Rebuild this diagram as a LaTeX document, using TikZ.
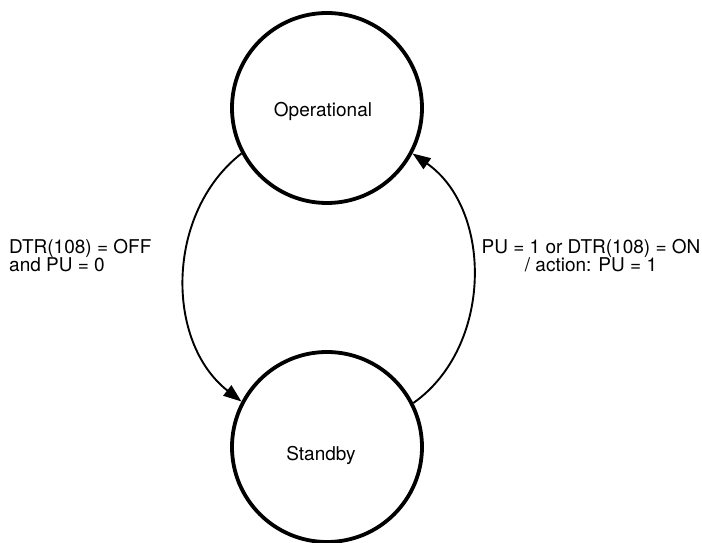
\documentclass[tikz,border=0pt]{standalone}
\usepackage{fontspec}
\setmainfont{TeX Gyre Heros}
\usetikzlibrary{arrows.meta}
\begin{document}
\begin{tikzpicture}[x=1pt,y=1pt,
  state/.style={circle,draw,line width=3.8pt,minimum size=190pt,inner sep=0pt},
  trans/.style={line width=1.9pt,-{Triangle[length=18pt,width=13pt]}},
  lbl/.style={font=\fontsize{19}{16.5}\selectfont,inner sep=0pt}]
\useasboundingbox (0,0) rectangle (702,543);
\node[state] (op) at (327,435) {};
\node[state] (sb) at (327,96) {};
\node[lbl,anchor=base] (opt) at (323,426) {Operational};
\node[lbl,anchor=base] (sbt) at (321,82) {Standby};
\draw[trans] (op.208) to[bend right=52] (sb.152);
\draw[trans] (sb.27) to[bend right=55] (op.-28);
\node[lbl,anchor=base west,align=left] (l1) at (9,271) {DTR(108) = OFF\\and PU = 0};
\node[lbl,anchor=base,align=center] (l2) at (591,271) {PU = 1 or DTR(108) = ON\\/ action: PU = 1};
\end{tikzpicture}
\end{document}
